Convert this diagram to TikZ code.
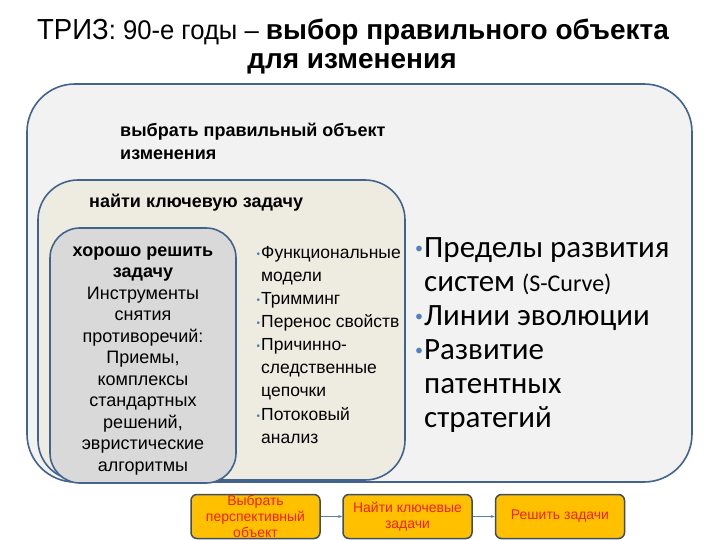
\documentclass[tikz,border=0pt]{standalone}
\usepackage{fontspec}
\setmainfont{Liberation Sans}
\newfontfamily\narrowf[FakeStretch=0.95]{Liberation Sans}
\newfontfamily\calib{Carlito}
\usetikzlibrary{arrows.meta}
\definecolor{bordc}{HTML}{41638C}
\definecolor{outerfill}{HTML}{F2F2F2}
\definecolor{midfill}{HTML}{EEECE1}
\definecolor{innerfill}{HTML}{D9D9D9}
\definecolor{bulc}{HTML}{4F81BD}
\definecolor{orangef}{HTML}{FFC000}
\definecolor{stepb}{HTML}{3F4F5F}
\definecolor{stept}{HTML}{F0200A}
\definecolor{arrc}{HTML}{5B7FAD}
\newcommand{\bulsm}{\llap{\textcolor{bulc}{\fontsize{10}{10}\selectfont\raisebox{1pt}{•}}\hspace{1pt}}}
\newcommand{\bulbig}{\llap{\textcolor{bulc}{\fontsize{16}{16}\selectfont\raisebox{3.5pt}{•}}\hspace{1pt}}}
\tikzset{
  layer/.style={draw=bordc, line width=1.6pt, inner sep=0pt},
  boldlbl/.style={font=\fontsize{18}{23}\selectfont\bfseries, inner sep=0pt, anchor=west},
  itemtxt/.style={font=\fontsize{17.5}{23.1}\selectfont, inner sep=0pt, align=left, anchor=north west},
  bigtxt/.style={font=\calib\fontsize{31}{34}\selectfont, inner sep=0pt, align=left, anchor=north west},
  stepbox/.style={draw=stepb, fill=orangef, line width=1.5pt, rounded corners=6pt,
     minimum width=129pt, minimum height=44pt, inner sep=0pt, align=center,
     text=stept, font=\fontsize{14}{16}\selectfont},
  flow/.style={draw=arrc, line width=0.9pt, -{Stealth[length=4pt,width=3pt]}},
  titletxt/.style={inner sep=0pt}
}
\begin{document}
\begin{tikzpicture}[x=1pt,y=-1pt]
\useasboundingbox (0,0) rectangle (720,540);
\fill[white] (0,0) rectangle (720,540);

% title
\node[titletxt] (title1) at (353,32)
  {{\narrowf\fontsize{29}{32}\selectfont ТРИЗ\fontsize{27}{32}\selectfont: 90-е годы – }{\fontsize{28}{32}\selectfont\bfseries выбор правильного объекта}};
\node[titletxt] (title2) at (352,64) {\fontsize{28}{32}\selectfont\bfseries для изменения};

% nested boxes
\node[layer, fill=outerfill, rounded corners=48pt, minimum width=665pt, minimum height=398pt] (outer) at (359.5,283) {};
\node[layer, fill=midfill, rounded corners=40pt, minimum width=367pt, minimum height=300pt] (middle) at (221.5,330) {};
\node[layer, fill=innerfill, rounded corners=30pt, minimum width=186pt, minimum height=255pt] (inner) at (143,355.5) {};

% outer label
\node[boldlbl, align=left, anchor=north west] (outerlbl) at (120,123) {выбрать правильный объект\\изменения};
% middle label
\node[boldlbl] (midlbl) at (89,203) {найти ключевую задачу};

% inner text
\node[inner sep=0pt, align=center, font=\fontsize{18}{21.5}\selectfont] (innertxt) at (143,361)
 {\textbf{хорошо решить}\\\textbf{задачу}\\Инструменты\\снятия\\противоречий:\\Приемы,\\комплексы\\стандартных\\решений,\\эвристические\\алгоритмы};

% middle list
\node[itemtxt] (m1) at (261,246) {\bulsm Функциональные\\модели\\\bulsm Тримминг\\\bulsm Перенос свойств\\\bulsm Причинно-\\следственные\\цепочки\\\bulsm Потоковый\\анализ};

% right list
\node[bigtxt] (r1) at (424,237) {\bulbig Пределы развития\\систем {\fontsize{24}{34}\selectfont(S-Curve)}\\\bulbig Линии эволюции\\\bulbig Развитие\\патентных\\стратегий};

% bottom flow
\node[stepbox] (s1) at (255.5,516.5) {Выбрать\\перспективный\\объект};
\node[stepbox] (s2) at (407.5,516.5) {Найти ключевые\\задачи};
\node[stepbox] (s3) at (560,516.5) {Решить задачи};
\draw[flow] (s1) -- (s2);
\draw[flow] (s2) -- (s3);
\end{tikzpicture}
\end{document}
